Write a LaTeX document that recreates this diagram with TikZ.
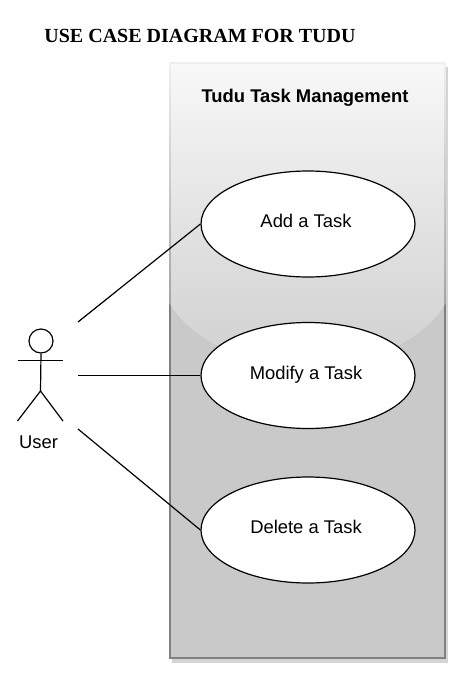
\documentclass[tikz,border=0pt]{standalone}
\usepackage{fontspec}
\setmainfont{Liberation Sans}
\newfontfamily\titlefont{Liberation Serif}
\usetikzlibrary{shapes.geometric,fadings}
\tikzfading[name=glossfade, top color=transparent!12, bottom color=transparent!86]
\newcommand{\uclabel}[1]{\kern-4pt\raisebox{-3.5pt}[0pt][0pt]{#1}}
\tikzset{
  x=1pt,y=-1pt,
  usecase/.style={ellipse,draw=black,line width=1.2pt,fill=white,minimum width=214pt,minimum height=106pt,inner sep=0pt,font=\fontsize{18.4}{20}\selectfont},
  conn/.style={draw=black,line width=1.2pt},
  stick/.style={draw=black,line width=1.2pt},
  lbl/.style={inner sep=0pt,font=\fontsize{18.4}{20}\selectfont}
}
\begin{document}
\begin{tikzpicture}
\useasboundingbox (0,0) rectangle (466,686);
% system boundary
\fill[black!17] (172,67) rectangle (448,662.5);
\fill[black!21] (170,63) rectangle (445,658);
\draw[draw=black!50,line width=1.3pt] (170,63) rectangle (445,658);
\fill[white,path fading=glossfade] (169,62) -- (446,62) -- (446,303) .. controls (420,345) and (365,365) .. (308,365) .. controls (250,365) and (195,345) .. (169,303) -- cycle;
\node[inner sep=0pt,font=\bfseries\fontsize{18.4}{20}\selectfont] (sys) at (305,97.5) {Tudu Task Management};
\node[inner sep=0pt,font=\titlefont\bfseries\fontsize{20}{22}\selectfont] (title) at (200,35.5) {USE CASE DIAGRAM FOR TUDU};
% use cases
\node[usecase] (add) at (308,224) {\uclabel{Add a Task}};
\node[usecase] (mod) at (308,375.5) {\uclabel{Modify a Task}};
\node[usecase] (del) at (308,530) {\uclabel{Delete a Task}};
% actor
\node[circle,draw=black,line width=1.2pt,minimum size=24pt,inner sep=0pt] (head) at (41,341) {};
\coordinate (hip) at (40.5,391);
\coordinate (armL) at (17.5,360.5);
\coordinate (armR) at (63,360.5);
\coordinate (legL) at (17.5,421);
\coordinate (legR) at (63,421);
\draw[stick] (head.south) -- (hip);
\draw[stick] (armL) -- (armR);
\draw[stick] (legL) -- (hip) -- (legR);
\node[lbl] (user) at (38.5,442) {User};
% connectors
\coordinate (c1) at (78,322);
\coordinate (c2) at (78,375.5);
\coordinate (c3) at (78,429);
\draw[conn] (c1) -- (add.west);
\draw[conn] (c2) -- (mod.west);
\draw[conn] (c3) -- (del.west);
\end{tikzpicture}
\end{document}
